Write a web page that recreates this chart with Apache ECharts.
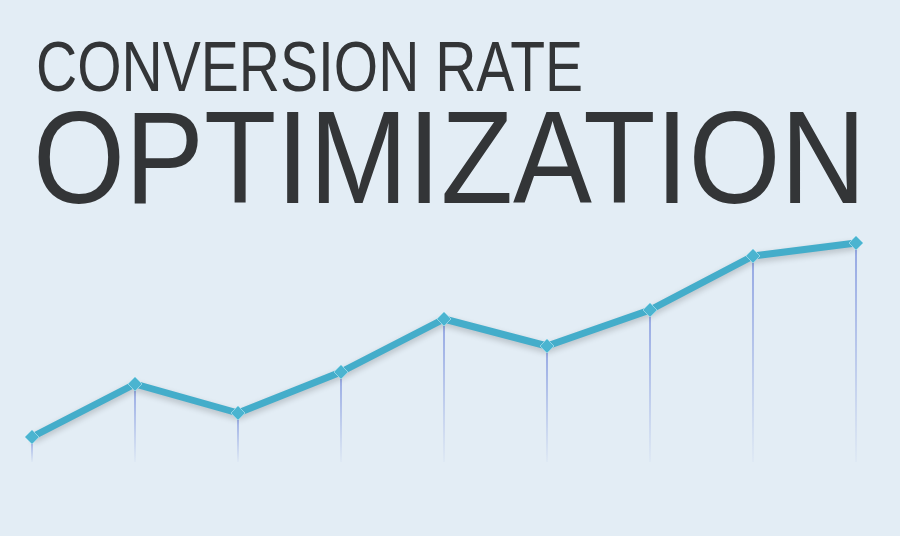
<!DOCTYPE html>
<html><head><meta charset="utf-8">
<script src="https://cdn.jsdelivr.net/npm/echarts@6/dist/echarts.min.js"></script>
<style>html,body{margin:0;padding:0;background:#e3edf5}#c{width:900px;height:536px}</style>
</head><body><div id="c"></div>
<script>
const categories = ['1','2','3','4','5','6','7','8','9'];
const values = [25, 78, 49, 90, 143, 116, 152, 206, 219];
const titleLine1 = 'CONVERSION RATE';
const titleLine2 = 'OPTIMIZATION';
const FONT = 'Liberation Sans';
function fitScale(text, size, target) {
  const ctx = document.createElement('canvas').getContext('2d');
  ctx.font = size + 'px "' + FONT + '"';
  return target / ctx.measureText(text).width;
}
const s1 = 70, s2 = 132;
const chart = echarts.init(document.getElementById('c'));
chart.setOption({
  backgroundColor: '#e3edf5',
  animation: false,
  graphic: [
    {type: 'text', x: 36, y: 37, scaleX: fitScale(titleLine1, s1, 547),
     style: {text: titleLine1, font: s1 + 'px "' + FONT + '"', lineHeight: s1, fill: '#333537', verticalAlign: 'top'}},
    {type: 'text', x: 33, y: 101, scaleX: fitScale(titleLine2, s2, 833),
     style: {text: titleLine2, font: s2 + 'px "' + FONT + '"', lineHeight: s2, fill: '#333537', verticalAlign: 'top'}}
  ],
  grid: {left: 32, right: 44, top: 212, bottom: 74},
  xAxis: {type: 'category', data: categories, boundaryGap: false, show: false},
  yAxis: {type: 'value', min: 0, max: 250, show: false},
  series: [
    {type: 'bar', data: values, barWidth: 2, barGap: '-100%', z: 1,
     itemStyle: {color: new echarts.graphic.LinearGradient(0,0,0,1,[{offset:0,color:'rgba(140,160,225,0.9)'},{offset:1,color:'rgba(140,160,225,0.05)'}])}},
    {type: 'line', data: values, z: 3, symbol: 'diamond', symbolSize: 14,
     lineStyle: {color: '#44adca', width: 7, shadowColor: 'rgba(0,0,0,0.2)', shadowBlur: 6, shadowOffsetY: 3},
     itemStyle: {color: '#4bb4d0', borderColor: '#8fd3e6', borderWidth: 1}}
  ]
});
</script></body></html>
